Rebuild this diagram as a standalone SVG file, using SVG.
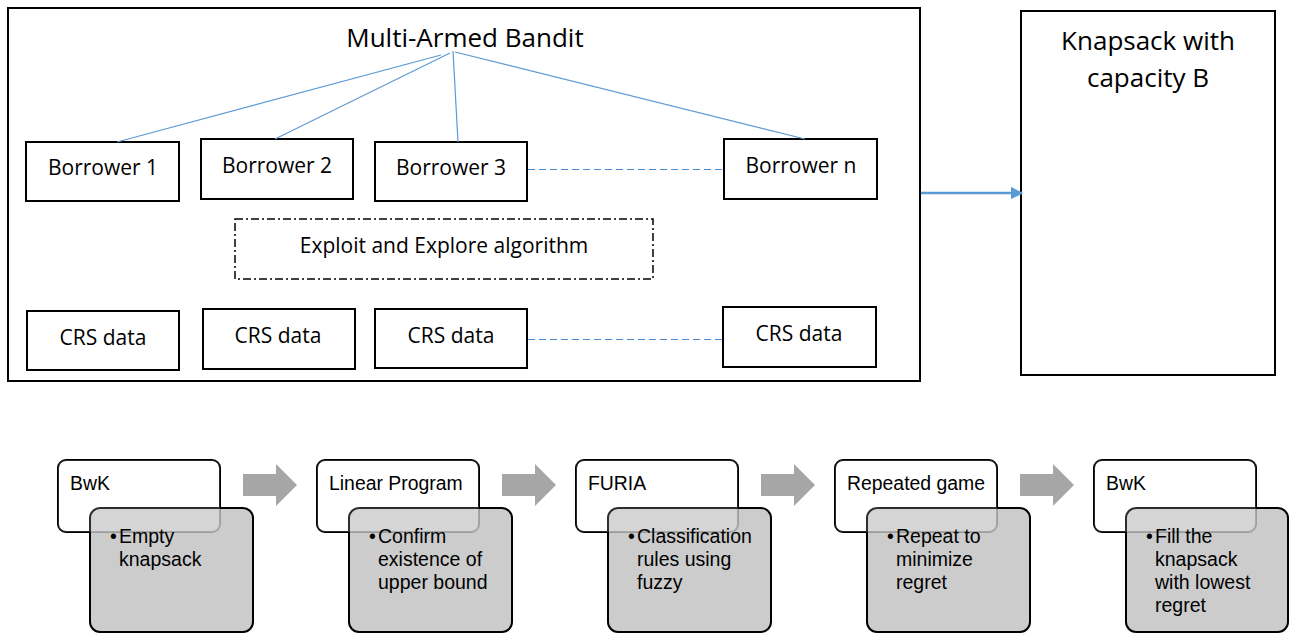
<svg xmlns="http://www.w3.org/2000/svg" width="1289" height="634" viewBox="0 0 1289 634">
<style>
  text { font-family: "Open Sans", "Liberation Sans", sans-serif; fill: #000; }
  .box { fill: #fff; stroke: #000; stroke-width: 2; }
  .lbl { font-size: 21px; text-anchor: middle; }
  .big { font-size: 26px; text-anchor: middle; }
  .link { stroke: #5b9bd5; stroke-width: 1.2; fill: none; }
  .dash { stroke: #4a8bd0; stroke-width: 1; stroke-dasharray: 7 4; fill: none; }
  .tbox { fill: #fff; stroke: #000; stroke-width: 2; }
  .gbox { fill: #c6c6c6; fill-opacity: 0.9; stroke: #000; stroke-width: 2; }
  .veil { fill: #fff; fill-opacity: 0.18; stroke: #000; stroke-opacity: 0.12; stroke-width: 2; }
  .ttl { font-family: "Liberation Sans", Arial, sans-serif; font-size: 19.4px; }
  .bul { font-family: "Liberation Sans", Arial, sans-serif; font-size: 19.5px; }
  .chev { fill: #a6a6a6; }
</style>
<defs>
  <marker id="ah" viewBox="0 0 10 10" refX="9" refY="5" markerWidth="5" markerHeight="5" markerUnits="strokeWidth" orient="auto">
    <path d="M0,0 L10,5 L0,10 z" fill="#5b9bd5"/>
  </marker>
  <path id="step-arrow" d="M0,10 H33 V0 L54,21 L33,42 V32 H0 z"/>
</defs>

<g id="mab">
  <rect class="box" x="8" y="8" width="912" height="373"/>
  <text class="big" x="465" y="47">Multi-Armed Bandit</text>
</g>

<g id="knapsack">
  <rect class="box" x="1021" y="11" width="254" height="364"/>
  <text class="big" x="1148" y="50">Knapsack with</text>
  <text class="big" x="1148" y="87">capacity B</text>
</g>

<g id="borrower1"><rect class="box" x="26" y="142" width="153" height="59"/><text class="lbl" x="103" y="175">Borrower 1</text></g>
<g id="borrower2"><rect class="box" x="201" y="139" width="152" height="60"/><text class="lbl" x="277" y="173">Borrower 2</text></g>
<g id="borrower3"><rect class="box" x="375" y="142" width="152" height="59"/><text class="lbl" x="451" y="175">Borrower 3</text></g>
<g id="borrowern"><rect class="box" x="724" y="139" width="153" height="60"/><text class="lbl" x="801" y="173">Borrower n</text></g>

<g id="exploit">
  <rect x="235" y="219" width="418" height="60" fill="none" stroke="#000" stroke-width="1.5" stroke-dasharray="8 3 2 3"/>
  <text class="lbl" x="444" y="253">Exploit and Explore algorithm</text>
</g>

<g id="crs1"><rect class="box" x="27" y="311" width="152" height="59"/><text class="lbl" x="103" y="345">CRS data</text></g>
<g id="crs2"><rect class="box" x="203" y="309" width="152" height="60"/><text class="lbl" x="278" y="343">CRS data</text></g>
<g id="crs3"><rect class="box" x="375" y="309" width="152" height="59"/><text class="lbl" x="451" y="343">CRS data</text></g>
<g id="crsn"><rect class="box" x="723" y="307" width="153" height="60"/><text class="lbl" x="799" y="341">CRS data</text></g>

<g id="connectors">
  <line class="link" x1="441" y1="55" x2="117" y2="142"/>
  <line class="link" x1="450" y1="53" x2="275" y2="139"/>
  <line class="link" x1="453" y1="51" x2="458" y2="142"/>
  <line class="link" x1="455" y1="52" x2="805" y2="139"/>
  <line class="dash" x1="528" y1="169.5" x2="724" y2="169.5"/>
  <line class="dash" x1="528" y1="339.5" x2="723" y2="339.5"/>
  <line x1="921" y1="193" x2="1022" y2="193" stroke="#5b9bd5" stroke-width="2.5" marker-end="url(#ah)"/>
</g>

<g id="step1">
  <rect class="tbox" x="58" y="460" width="162" height="72" rx="8"/>
  <rect class="gbox" x="90" y="508" width="163" height="124" rx="10"/>
  <rect class="veil" x="58" y="460" width="162" height="72" rx="8"/>
  <text class="ttl" x="70" y="490">BwK</text>
  <text class="bul" x="110" y="543">•</text>
  <text class="bul" x="119" y="543">Empty</text>
  <text class="bul" x="119" y="566">knapsack</text>
</g>
<use href="#step-arrow" class="chev" x="243" y="464"/>

<g id="step2">
  <rect class="tbox" x="317" y="460" width="162" height="72" rx="8"/>
  <rect class="gbox" x="349" y="508" width="163" height="124" rx="10"/>
  <rect class="veil" x="317" y="460" width="162" height="72" rx="8"/>
  <text class="ttl" x="329" y="490">Linear Program</text>
  <text class="bul" x="369" y="543">•</text>
  <text class="bul" x="378" y="543">Confirm</text>
  <text class="bul" x="378" y="566">existence of</text>
  <text class="bul" x="378" y="589">upper bound</text>
</g>
<use href="#step-arrow" class="chev" x="502" y="464"/>

<g id="step3">
  <rect class="tbox" x="576" y="460" width="162" height="72" rx="8"/>
  <rect class="gbox" x="608" y="508" width="163" height="124" rx="10"/>
  <rect class="veil" x="576" y="460" width="162" height="72" rx="8"/>
  <text class="ttl" x="588" y="490">FURIA</text>
  <text class="bul" x="628" y="543">•</text>
  <text class="bul" x="637" y="543">Classification</text>
  <text class="bul" x="637" y="566">rules using</text>
  <text class="bul" x="637" y="589">fuzzy</text>
</g>
<use href="#step-arrow" class="chev" x="761" y="464"/>

<g id="step4">
  <rect class="tbox" x="835" y="460" width="162" height="72" rx="8"/>
  <rect class="gbox" x="867" y="508" width="163" height="124" rx="10"/>
  <rect class="veil" x="835" y="460" width="162" height="72" rx="8"/>
  <text class="ttl" x="847" y="490">Repeated game</text>
  <text class="bul" x="887" y="543">•</text>
  <text class="bul" x="896" y="543">Repeat to</text>
  <text class="bul" x="896" y="566">minimize</text>
  <text class="bul" x="896" y="589">regret</text>
</g>
<use href="#step-arrow" class="chev" x="1020" y="464"/>

<g id="step5">
  <rect class="tbox" x="1094" y="460" width="162" height="72" rx="8"/>
  <rect class="gbox" x="1126" y="508" width="162" height="124" rx="10"/>
  <rect class="veil" x="1094" y="460" width="162" height="72" rx="8"/>
  <text class="ttl" x="1106" y="490">BwK</text>
  <text class="bul" x="1146" y="543">•</text>
  <text class="bul" x="1155" y="543">Fill the</text>
  <text class="bul" x="1155" y="566">knapsack</text>
  <text class="bul" x="1155" y="589">with lowest</text>
  <text class="bul" x="1155" y="612">regret</text>
</g>
</svg>
